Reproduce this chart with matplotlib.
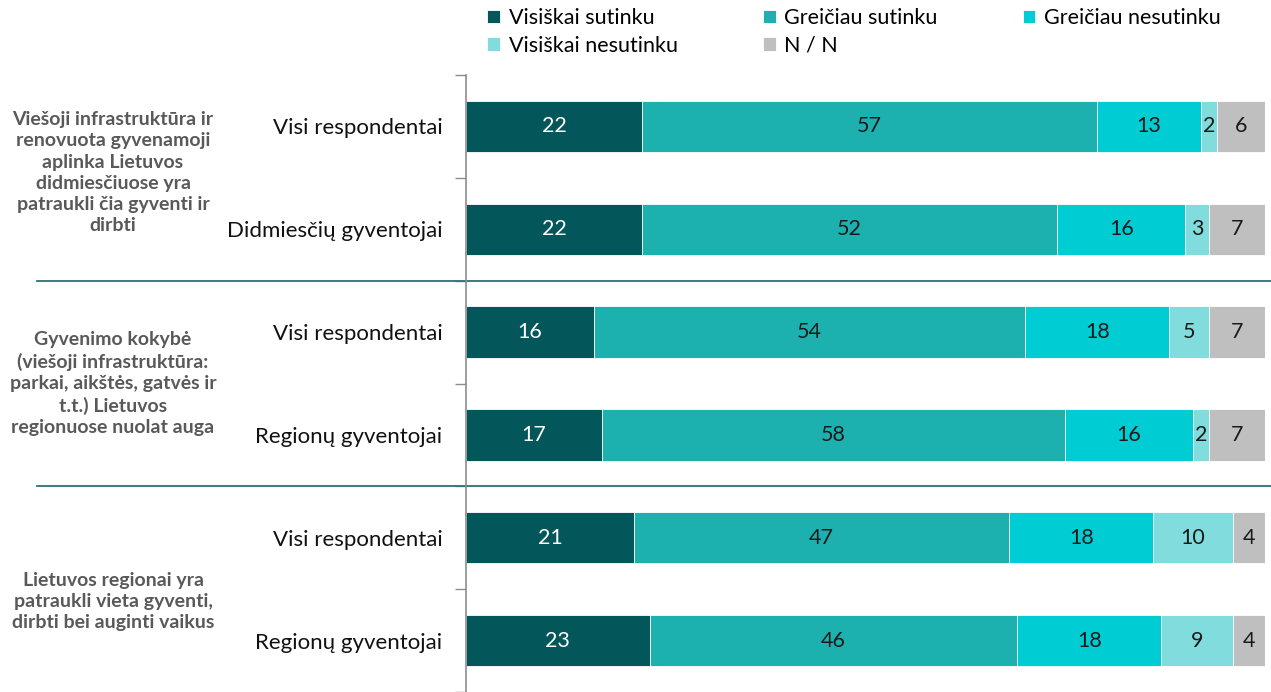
import matplotlib
matplotlib.use("Agg")
import matplotlib.pyplot as plt
import matplotlib.transforms as mtransforms
import numpy as np

plt.rcParams["font.family"] = ["Lato", "DejaVu Sans"]

# --- data ---
categories = ["Visi respondentai", "Didmiesčių gyventojai",
              "Visi respondentai", "Regionų gyventojai",
              "Visi respondentai", "Regionų gyventojai"]
series_names = ["Visiškai sutinku", "Greičiau sutinku", "Greičiau nesutinku",
                "Visiškai nesutinku", "N / N"]
visiskai_sutinku = [22, 22, 16, 17, 21, 23]
greiciau_sutinku = [57, 52, 54, 58, 47, 46]
greiciau_nesutinku = [13, 16, 18, 16, 18, 18]
visiskai_nesutinku = [2, 3, 5, 2, 10, 9]
nn = [6, 7, 7, 7, 4, 4]
group_labels = [
    "Viešoji infrastruktūra ir\nrenovuota gyvenamoji\naplinka Lietuvos\ndidmiesčiuose yra\npatraukli čia gyventi ir\ndirbti",
    "Gyvenimo kokybė\n(viešoji infrastruktūra:\nparkai, aikštės, gatvės ir\nt.t.) Lietuvos\nregionuose nuolat auga",
    "Lietuvos regionai yra\npatraukli vieta gyventi,\ndirbti bei auginti vaikus",
]

colors = ["#03565A", "#1CB1AE", "#00CDD3", "#80DCDD", "#BFBFBF"]
text_colors = ["white", "#1a1a1a", "#1a1a1a", "#1a1a1a", "#1a1a1a"]

W, H = 1271, 692
fig = plt.figure(figsize=(W / 100, H / 100), dpi=100)
ax = fig.add_axes([466 / W, 0, (1265 - 466) / W, 1 - 75 / H])

series = [visiskai_sutinku, greiciau_sutinku, greiciau_nesutinku, visiskai_nesutinku, nn]
y = np.arange(len(categories))
left = np.zeros(len(categories))
handles = []
for vals, name, c, tc in zip(series, series_names, colors, text_colors):
    vals = np.asarray(vals, dtype=float)
    bars = ax.barh(y, vals, left=left, height=0.5, color=c, label=name,
                   edgecolor="white", linewidth=0.6)
    handles.append(bars)
    ax.bar_label(bars, labels=[f"{v:g}" for v in vals], label_type="center",
                 color=tc, fontsize=15.5)
    left += vals

ax.set_xlim(0, 100)
ax.set_ylim(len(categories) - 0.5, -0.5)
ax.set_xticks([])
ax.set_yticks(y)
ax.set_yticklabels(categories, fontsize=16, color="#111111")
ax.set_yticks(np.arange(-0.5, len(categories) + 0.5, 1), minor=True)
ax.tick_params(axis="y", which="major", length=0, pad=17)
ax.tick_params(axis="y", which="minor", length=8, color="#8c8c8c", width=1)
for s in ["top", "right", "bottom"]:
    ax.spines[s].set_visible(False)
ax.spines["left"].set_color("#8c8c8c")
ax.spines["left"].set_linewidth(1.2)

# group separators and group labels
trans = mtransforms.blended_transform_factory(fig.transFigure, ax.transData)
for yy in [1.5, 3.5]:
    ax.plot([37 / W, 1.0], [yy, yy], transform=trans, color="#2F7073",
            lw=1.3, clip_on=False)
for lab, yy in zip(group_labels, [0.45, 2.5, 4.62]):
    ax.text(113 / W, yy, lab, transform=trans, ha="center", va="center",
            fontsize=14, fontweight="bold", color="#595959", linespacing=1.3)

# legend (row-major order)
order = [0, 3, 1, 4, 2]
fig.legend([handles[i] for i in order], [series_names[i] for i in order],
           ncol=3, loc="upper left", bbox_to_anchor=(472 / W, 1.01),
           frameon=False, fontsize=15.5, handlelength=0.6, handleheight=0.6,
           handletextpad=0.4, columnspacing=3.95, labelspacing=0.35,
           borderaxespad=0.3)

fig.savefig("out.png", dpi=100)
